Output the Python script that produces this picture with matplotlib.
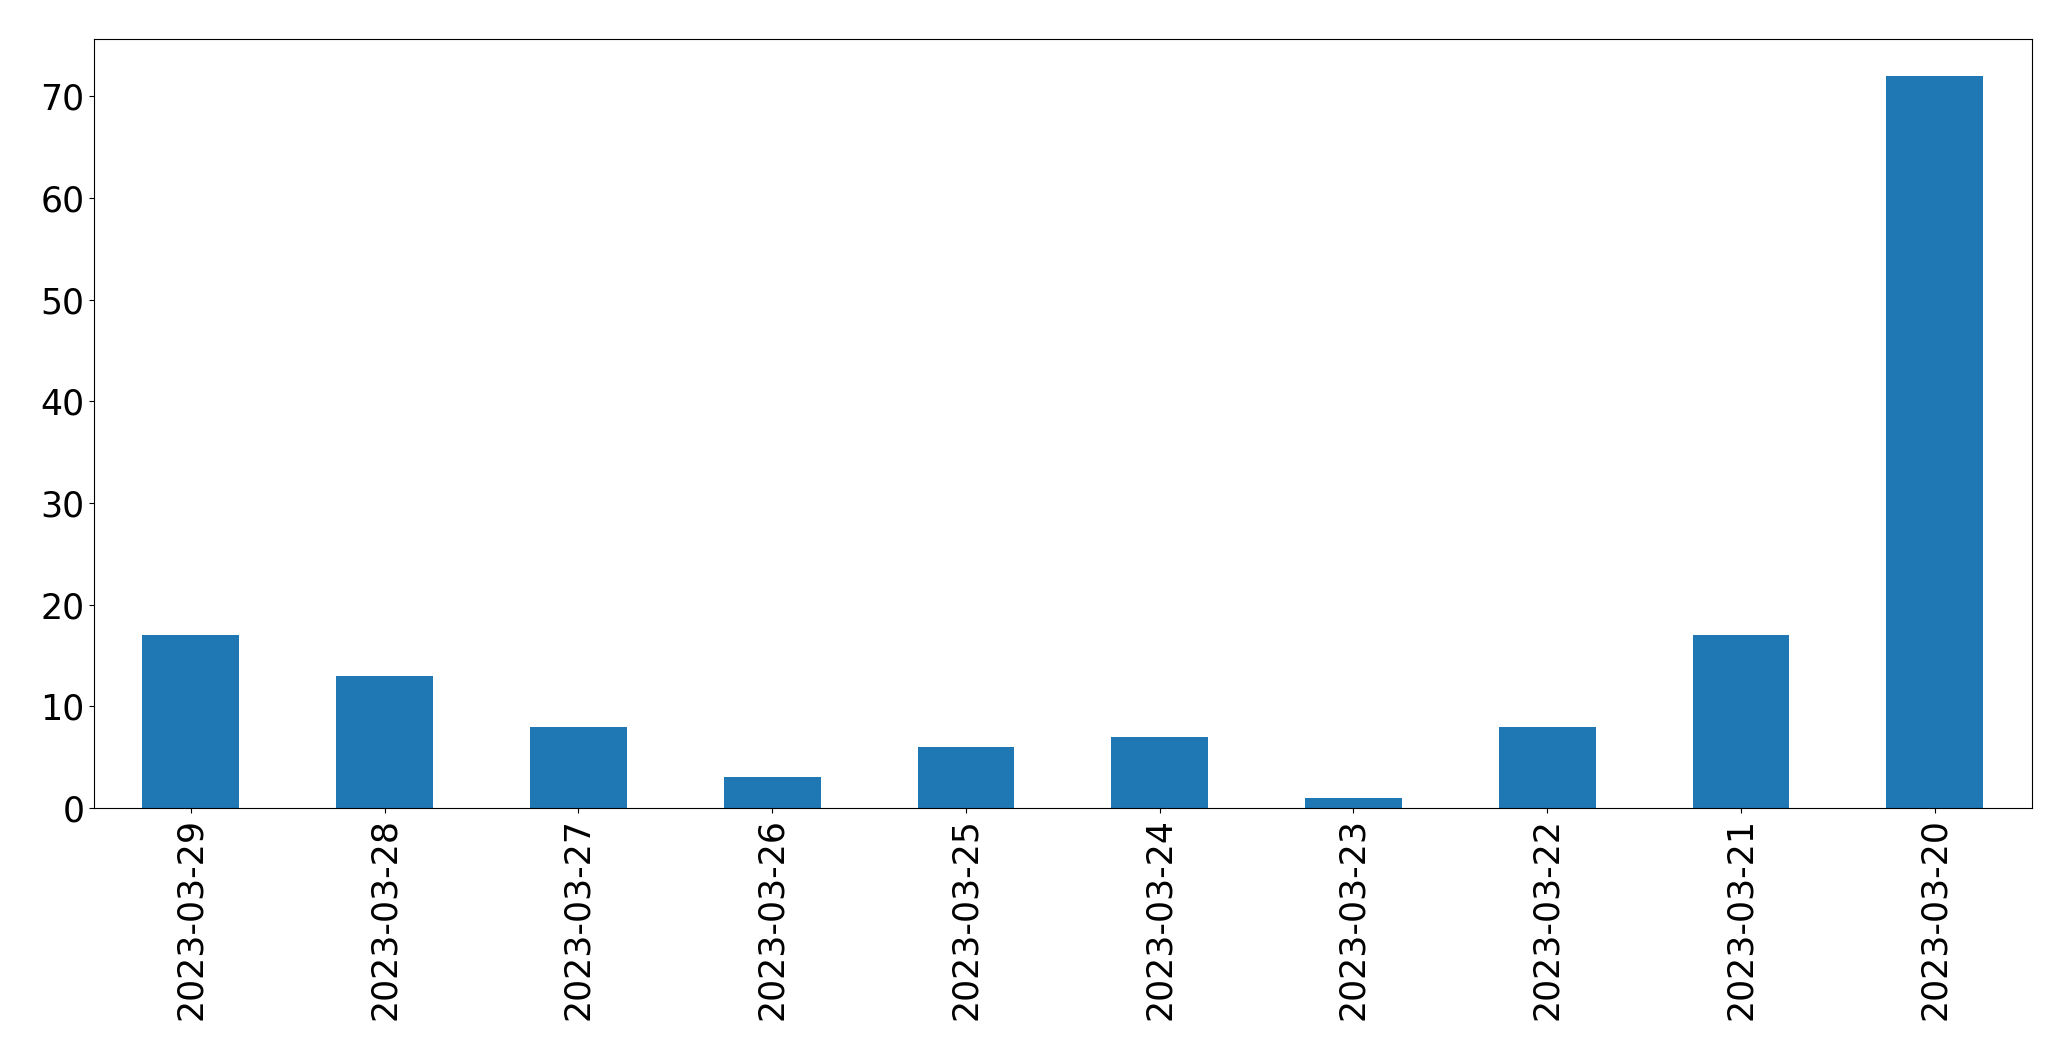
import matplotlib
matplotlib.use('Agg')
import matplotlib.pyplot as plt
import pandas as pd

dates = ['2023-03-29', '2023-03-28', '2023-03-27', '2023-03-26', '2023-03-25',
         '2023-03-24', '2023-03-23', '2023-03-22', '2023-03-21', '2023-03-20']
counts = [17, 13, 8, 3, 6, 7, 1, 8, 17, 72]

s = pd.Series(counts, index=dates)

fig, ax = plt.subplots(figsize=(20.71, 10.61), dpi=100)
s.plot(kind='bar', ax=ax, color='#1f77b4', fontsize=25)
fig.subplots_adjust(left=0.0454, right=0.981, top=0.963, bottom=0.2385)
fig.savefig('out.png', dpi=100)
